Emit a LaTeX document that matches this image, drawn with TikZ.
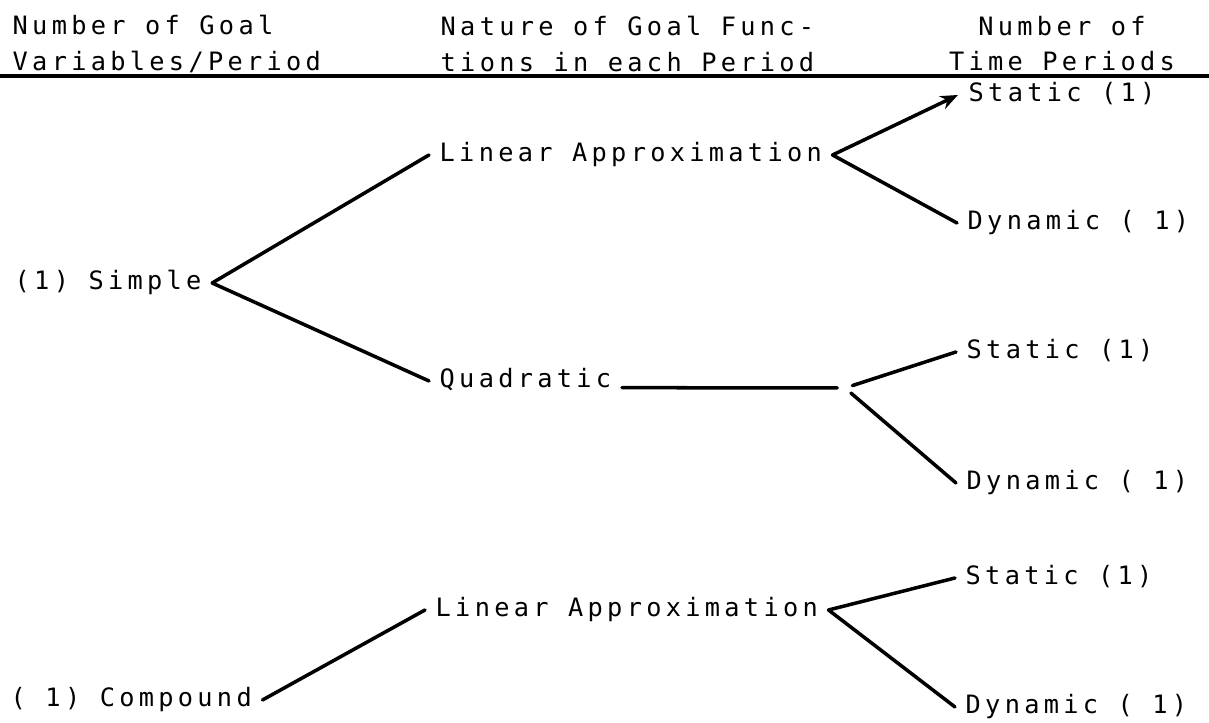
\documentclass[tikz,border=0pt]{standalone}
\usepackage{fontspec}
\usepackage{tikz}
\usetikzlibrary{arrows.meta}
\newfontfamily\typefont{DejaVu Sans Mono}[LetterSpace=17]

\begin{document}
\begin{tikzpicture}[
  every node/.style={font=\typefont\fontsize{7.2}{10}\selectfont},
  entry/.style={anchor=west, inner sep=0.1cm,
    text height=5.4pt, text depth=1.6pt},
  head/.style={anchor=#1, inner sep=0pt, align=left},
  branch/.style={line width=1pt, line cap=round},
  fork/.style={circle, inner sep=0.05cm}
]
\useasboundingbox (0,0) rectangle (12.09,-7.23);

%% ── HEADINGS ─────────────────────────────────────────────
\node[head=west]   (hdgoal)   at (0.12,-0.44)  {Number of Goal\\Variables/Period};
\node[head=west]   (hdnature) at (4.40,-0.44)  {Nature of Goal Func-\\tions in each Period};
\node[anchor=center, inner sep=0pt, align=center]
                   (hdtime)   at (10.62,-0.44) {Number of\\Time Periods};
\draw[line width=1pt] (0,-0.76) -- (12.09,-0.76);

%% ── SIMPLE ───────────────────────────────────────────────
\node[entry] (simple) at (0.04,-2.83)  {(1) Simple};
\node[entry] (lin1)   at (4.29,-1.55)  {Linear Approximation};
\node[entry] (quad)   at (4.29,-3.81)  {Quadratic};
\node[fork]  (qfork)  at (8.45,-3.88)  {};

\node[entry] (stat1)  at (9.58,-0.95)  {Static (1)};
\node[entry] (dyn1)   at (9.57,-2.23)  {Dynamic ( 1)};
\node[entry] (stat2)  at (9.56,-3.52)  {Static (1)};
\node[entry] (dyn2)   at (9.56,-4.83)  {Dynamic ( 1)};

\draw[branch] (simple.east) -- (lin1.west);
\draw[branch] (simple.east) -- (quad.west);
\draw[branch, -{Stealth[length=5pt,width=4pt]}] (lin1.east) -- (stat1.west);
\draw[branch] (lin1.east) -- (dyn1.west);
\draw[branch] (quad.base east) -- (qfork);
\draw[branch] (qfork) -- (stat2.west);
\draw[branch] (qfork) -- (dyn2.west);

%% ── COMPOUND ─────────────────────────────────────────────
\node[entry] (compound) at (0.00,-7.00) {( 1) Compound};
\node[entry] (lin2)     at (4.25,-6.10) {Linear Approximation};
\node[entry] (stat3)    at (9.55,-5.78) {Static (1)};
\node[entry] (dyn3)     at (9.55,-7.07) {Dynamic ( 1)};

\draw[branch] (compound.east) -- (lin2.west);
\draw[branch] (lin2.east) -- (stat3.west);
\draw[branch] (lin2.east) -- (dyn3.west);

\end{tikzpicture}
\end{document}
